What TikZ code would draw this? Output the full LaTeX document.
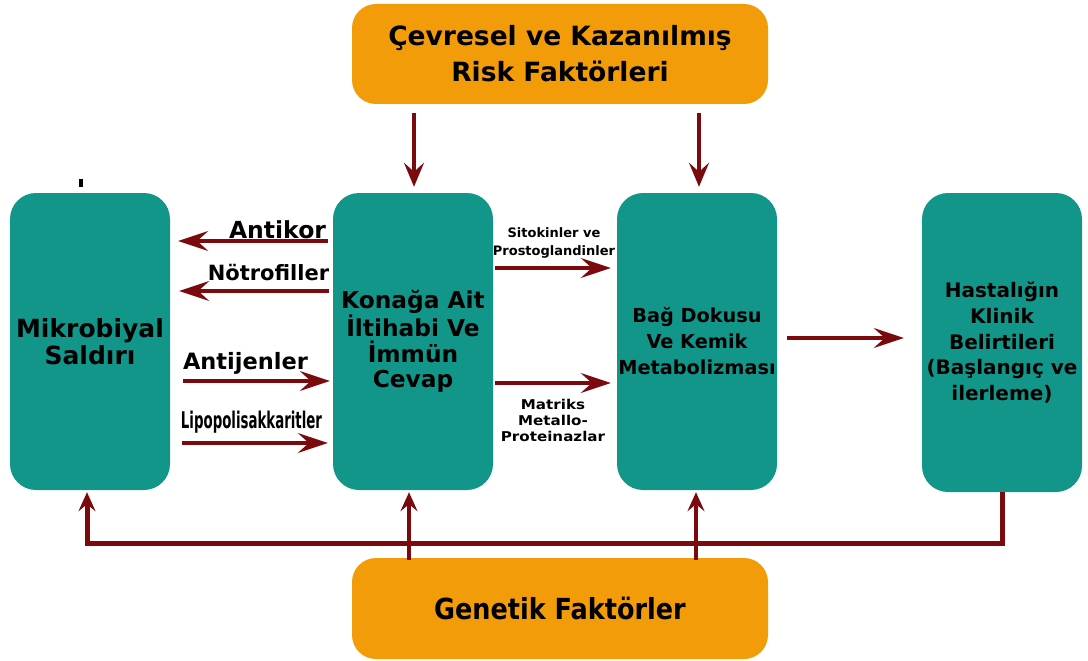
\documentclass[tikz,border=0pt]{standalone}
\usepackage{fontspec}
\setmainfont{DejaVu Sans}
\newfontfamily\narrowfont{DejaVu Sans}[FakeStretch=0.58]
\newfontfamily\condfont{DejaVu Sans}[FakeStretch=0.88]
\newfontfamily\widefont{DejaVu Sans}[FakeStretch=1.12]
\usetikzlibrary{arrows.meta,calc}

\definecolor{tealfill}{HTML}{12968A}
\definecolor{orangefill}{HTML}{F29C0A}
\definecolor{arrowred}{HTML}{7A0A0E}

\tikzset{
  tealnode/.style={rectangle, rounded corners=26pt, fill=tealfill, inner sep=0pt,
    minimum width=160pt, align=center, text=black},
  orangenode/.style={rectangle, rounded corners=24pt, fill=orangefill, inner sep=0pt,
    minimum width=416pt, align=center, text=black},
  lbl/.style={inner sep=0pt, anchor=base, align=center, text=black},
  arr/.style={draw=arrowred, line width=3.2pt,
    -{Stealth[length=30pt,width=20pt,inset=11pt]}},
  downarr/.style={draw=arrowred, line width=3.2pt,
    -{Stealth[length=24pt,width=20pt,inset=9pt]}},
  uparr/.style={draw=arrowred, line width=3.6pt,
    -{Stealth[length=19pt,width=17pt,inset=7pt]}},
  feedback/.style={draw=arrowred, line width=5pt, line join=miter,
    -{Stealth[length=19pt,width=17pt,inset=7pt]}}
}

\begin{document}
\begin{tikzpicture}[x=1pt,y=-1pt]
\useasboundingbox (0,0) rectangle (1088,661);

% risk factor boxes
\node[orangenode, minimum height=100pt, font=\fontsize{26.5}{36}\selectfont\bfseries] (env) at (560,54)
  {Çevresel ve Kazanılmış\\Risk Faktörleri};
\node[orangenode, minimum height=101pt, font=\condfont\fontsize{29}{34}\selectfont\bfseries] (gen) at (560,608.5)
  {Genetik Faktörler};

% main process boxes
\node[tealnode, minimum height=297pt, font=\fontsize{25}{27}\selectfont\bfseries] (mik) at (90,341.5)
  {Mikrobiyal\\Saldırı};
\node[tealnode, minimum height=297pt, font=\fontsize{23.3}{25.5}\selectfont\bfseries] (kon) at (413,341.5)
  {Konağa Ait\\İltihabi Ve\\İmmün\\Cevap};
\node[tealnode, minimum height=297pt, font=\fontsize{19.3}{26}\selectfont\bfseries] (bag) at (697,341.5)
  {Bağ Dokusu\\Ve Kemik\\Metabolizması};
\node[tealnode, minimum height=299pt, font=\fontsize{20}{25.8}\selectfont\bfseries] (hast) at (1002,342.5)
  {Hastalığın\\Klinik\\Belirtileri\\(Başlangıç ve\\ilerleme)};

% small mark above the first box
\fill[black] (79,179) rectangle (83,187);

% labels between the boxes (multi-line labels sit on their last baseline)
\node[lbl, font=\fontsize{23.5}{26}\selectfont\bfseries] (antikor) at (277.5,238) {Antikor};
\node[lbl, font=\fontsize{21}{24}\selectfont\bfseries] (notro) at (268.5,280) {Nötrofiller};
\node[lbl, font=\fontsize{22.5}{25}\selectfont\bfseries] (antij) at (245.5,369) {Antijenler};
\node[lbl, font=\narrowfont\fontsize{23}{26}\selectfont\bfseries] (lps) at (251.5,428) {Lipopolisakkaritler};
\node[lbl, font=\fontsize{13}{18}\selectfont\bfseries] (sito) at (554,255) {Sitokinler ve\\Prostoglandinler};
\node[lbl, font=\widefont\fontsize{13.5}{16}\selectfont\bfseries] (mmp) at (553,441) {Matriks\\Metallo-\\Proteinazlar};

% arrows between the boxes
\draw[arr] ($(kon.west |- 0,241)+(-5,0)$) -- ($(mik.east |- 0,241)+(8,0)$);
\draw[arr] ($(kon.west |- 0,291)+(-4,0)$) -- ($(mik.east |- 0,291)+(9,0)$);
\draw[arr] ($(mik.east |- 0,381)+(13,0)$) -- ($(kon.west |- 0,381)+(-3,0)$);
\draw[arr] ($(mik.east |- 0,443)+(12,0)$) -- ($(kon.west |- 0,443)+(-5,0)$);
\draw[arr] ($(kon.east |- 0,268)+(2,0)$) -- ($(bag.west |- 0,268)+(-6,0)$);
\draw[arr] ($(kon.east |- 0,383)+(2,0)$) -- ($(bag.west |- 0,383)+(-6,0)$);
\draw[arr] ($(bag.east |- 0,338)+(10,0)$) -- ($(hast.west |- 0,338)+(-18,0)$);

% environmental factors act on the host response and tissue metabolism
\draw[downarr] ($(env.south -| kon.north)+(1,9)$) -- ($(kon.north)+(1,-6)$);
\draw[downarr] ($(env.south -| bag.north)+(2,9)$) -- ($(bag.north)+(2,-6)$);

% feedback from the clinical outcome to the microbial challenge
\draw[feedback] (hast.south) -- (hast.south |- 0,543) -- ($(mik.south |- 0,543)+(-3,0)$)
  -- ($(mik.south)+(-3,2)$);

% genetic factors act on the host response and tissue metabolism
\draw[uparr] ($(gen.north -| kon.south)+(-4,2)$) -- ($(kon.south)+(-4,2)$);
\draw[uparr] ($(gen.north -| bag.south)+(-1,2)$) -- ($(bag.south)+(-1,2)$);
\end{tikzpicture}
\end{document}
